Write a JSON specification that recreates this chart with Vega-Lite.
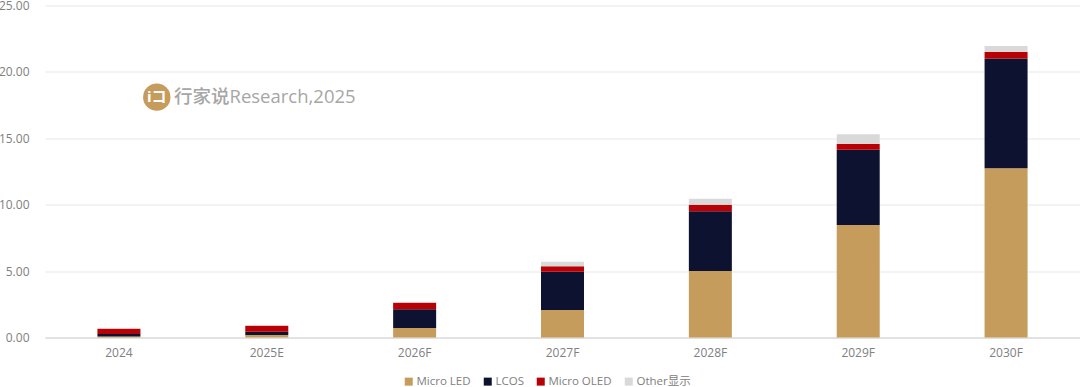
{
"$schema":"https://vega.github.io/schema/vega-lite/v6.json",
"width":1035,"height":332,
"autosize":{"type":"none"},
"padding":{"left":45,"top":5.5,"right":0,"bottom":49.5},
"background":"white",
"config":{"view":{"stroke":null},"font":"Open Sans, Noto Sans CJK SC"},
"datasets":{
"bars":[
{"year":"2024","tech":"Micro LED","rank":1,"value":0.07},{"year":"2024","tech":"LCOS","rank":2,"value":0.2},{"year":"2024","tech":"Micro OLED","rank":3,"value":0.39},{"year":"2024","tech":"Other显示","rank":4,"value":0.02},
{"year":"2025E","tech":"Micro LED","rank":1,"value":0.19},{"year":"2025E","tech":"LCOS","rank":2,"value":0.25},{"year":"2025E","tech":"Micro OLED","rank":3,"value":0.45},{"year":"2025E","tech":"Other显示","rank":4,"value":0.02},
{"year":"2026F","tech":"Micro LED","rank":1,"value":0.72},{"year":"2026F","tech":"LCOS","rank":2,"value":1.41},{"year":"2026F","tech":"Micro OLED","rank":3,"value":0.48},{"year":"2026F","tech":"Other显示","rank":4,"value":0.02},
{"year":"2027F","tech":"Micro LED","rank":1,"value":2.08},{"year":"2027F","tech":"LCOS","rank":2,"value":2.87},{"year":"2027F","tech":"Micro OLED","rank":3,"value":0.42},{"year":"2027F","tech":"Other显示","rank":4,"value":0.33},
{"year":"2028F","tech":"Micro LED","rank":1,"value":5.0},{"year":"2028F","tech":"LCOS","rank":2,"value":4.5},{"year":"2028F","tech":"Micro OLED","rank":3,"value":0.5},{"year":"2028F","tech":"Other显示","rank":4,"value":0.45},
{"year":"2029F","tech":"Micro LED","rank":1,"value":8.48},{"year":"2029F","tech":"LCOS","rank":2,"value":5.65},{"year":"2029F","tech":"Micro OLED","rank":3,"value":0.45},{"year":"2029F","tech":"Other显示","rank":4,"value":0.72},
{"year":"2030F","tech":"Micro LED","rank":1,"value":12.75},{"year":"2030F","tech":"LCOS","rank":2,"value":8.25},{"year":"2030F","tech":"Micro OLED","rank":3,"value":0.5},{"year":"2030F","tech":"Other显示","rank":4,"value":0.45}
],
"mark":[{"year":"2025E","y":18.1,"label":"行家说Research,2025","logo":"iコ"}]
},
"layer":[
{"data":{"name":"bars"},
"mark":{"type":"bar","width":43},
"encoding":{
"x":{"field":"year","type":"nominal","sort":null,"scale":{"paddingInner":0,"paddingOuter":0},
"axis":{"title":null,"labelAngle":0,"labelFontSize":12,"labelColor":"#808080","labelPadding":10,"ticks":false,"domain":true,"domainColor":"#dcdcdc","domainWidth":1.5,"grid":false}},
"y":{"field":"value","type":"quantitative","aggregate":"sum","stack":"zero","scale":{"domain":[0,25],"nice":false},
"axis":{"title":null,"format":".2f","values":[0,5,10,15,20,25],"labelFontSize":12,"labelColor":"#808080","labelPadding":16,"ticks":false,"domain":false,"grid":true,"gridColor":"#e8e8e8","gridWidth":1.2}},
"color":{"field":"tech","type":"nominal",
"scale":{"domain":["Micro LED","LCOS","Micro OLED","Other显示"],"range":["#c69c5d","#0d1230","#b90005","#d9d9d9"]},
"legend":{"title":null,"orient":"none","direction":"horizontal","columns":4,"legendX":358,"legendY":370,"symbolType":"square","symbolSize":64,"symbolStrokeWidth":0,"labelFontSize":11.5,"labelColor":"#808080","columnPadding":11,"labelOffset":2,"padding":0}},
"order":{"field":"rank","type":"quantitative"}
}},
{"data":{"name":"mark"},
"mark":{"type":"text","align":"center","baseline":"middle","fontSize":18.5,"fontWeight":500,"color":"#a6a6a6","dx":-2},
"encoding":{"x":{"field":"year","type":"nominal","sort":null},"y":{"field":"y","type":"quantitative"},"text":{"field":"label"}}},
{"data":{"name":"mark"},
"mark":{"type":"point","filled":true,"size":750,"shape":"circle","color":"#c69c5d","opacity":1,"xOffset":-110},
"encoding":{"x":{"field":"year","type":"nominal","sort":null},"y":{"field":"y","type":"quantitative"}}},
{"data":{"name":"mark"},
"mark":{"type":"text","align":"center","baseline":"middle","fontSize":15,"fontWeight":"bold","color":"white","dx":-110},
"encoding":{"x":{"field":"year","type":"nominal","sort":null},"y":{"field":"y","type":"quantitative"},"text":{"field":"logo"}}}
]
}
